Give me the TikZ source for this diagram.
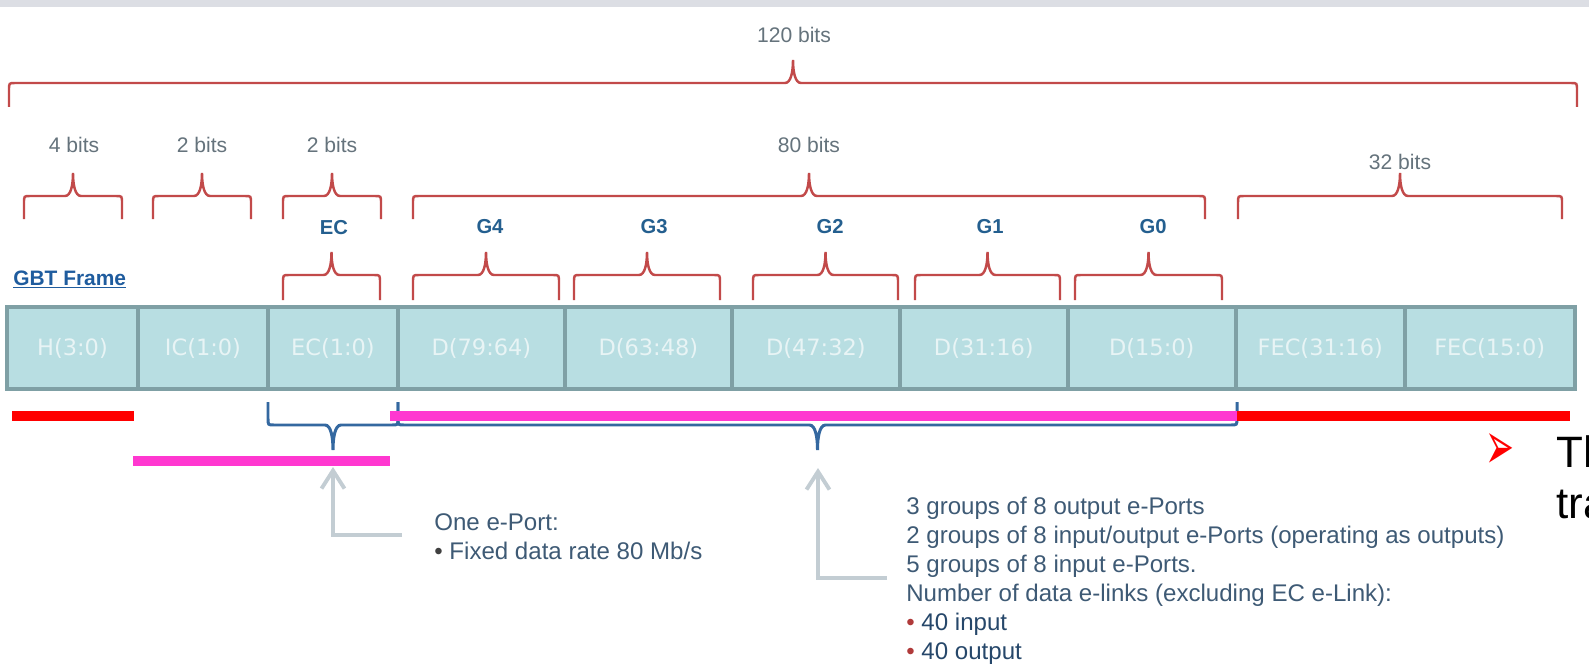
\documentclass[tikz,border=0pt]{standalone}
\usepackage{fontspec}
\usepackage{graphicx}
\setmainfont{Liberation Sans}
\newfontfamily\cellfont{DejaVu Sans}
\newfontfamily\symfont{DejaVu Sans}
\usetikzlibrary{arrows.meta,positioning}
\definecolor{cellfill}{HTML}{B8DEE2}
\definecolor{celledge}{HTML}{7FA0A5}
\definecolor{celltext}{HTML}{E8F4F5}
\definecolor{bracered}{HTML}{C24A4A}
\definecolor{braceblue}{HTML}{3468A0}
\definecolor{bitsgray}{HTML}{65737C}
\definecolor{groupblue}{HTML}{245F8F}
\definecolor{framelink}{HTML}{1F5C9E}
\definecolor{notetext}{HTML}{3E5A75}
\definecolor{notedark}{HTML}{26476A}
\definecolor{bulletred}{HTML}{B03A3A}
\definecolor{pointgray}{HTML}{C3CDD3}
\definecolor{barred}{HTML}{FF0000}
\definecolor{barpink}{HTML}{FF38D0}
\definecolor{topband}{HTML}{DCDEE4}

% brace: style, x left, x right, y line, y leg end, y tip
\newcommand{\spanbrace}[6]{%
  \draw[#1] (#2,#5) -- (#2,{#4+0.3*(#5-#4)}) .. controls (#2,#4) .. ({#2+6},#4)
    -- ({(#2+#3)/2-8},#4) .. controls ({(#2+#3)/2-2},#4) and ({(#2+#3)/2},{(#4+#6)/2}) .. ({(#2+#3)/2},#6)
    .. controls ({(#2+#3)/2},{(#4+#6)/2}) and ({(#2+#3)/2+2},#4) .. ({(#2+#3)/2+8},#4)
    -- ({#3-6},#4) .. controls (#3,#4) .. (#3,{#4+0.3*(#5-#4)}) -- (#3,#5);}

\begin{document}
\begin{tikzpicture}[x=0.02cm, y={-0.02cm},
  cell/.style={draw=celledge, line width=2.2pt, fill=cellfill, minimum height=1.64cm, outer sep=0pt, inner sep=0pt, font=\cellfont\fontsize{12.8}{14}\selectfont, text=celltext},
  bits/.style={font=\fontsize{12}{14}\selectfont, text=bitsgray, anchor=base, inner sep=0pt},
  group/.style={font=\bfseries\fontsize{11.5}{14}\selectfont, text=groupblue, anchor=base, inner sep=0pt},
  redbrace/.style={draw=bracered, line width=1.4pt},
  bluebrace/.style={draw=braceblue, line width=1.7pt},
  note/.style={align=left, anchor=base west, inner sep=0pt, text=notetext, font=\fontsize{13.7}{16.5}\selectfont},
  pointer/.style={draw=pointgray, line width=2.2pt, -{Straight Barb[length=3.6mm, width=4.6mm]}},
  slide/.style={font=\fontsize{25}{30}\selectfont, anchor=base west, inner sep=0pt}
]
  \useasboundingbox (0,0) rectangle (1589,669);
  \clip (0,0) rectangle (1589,669);
  \fill[white] (0,0) rectangle (1589,669);
  \fill[topband] (0,0) rectangle (1589,7);

  % bit counts
  \node[bits] (allbits) at (794,43) {120 bits};
  \node[bits] (hbits) at (74,153) {4 bits};
  \node[bits] (icbits) at (202,153) {2 bits};
  \node[bits] (ecbits) at (332,153) {2 bits};
  \node[bits] (dbits) at (809,153) {80 bits};
  \node[bits] (fecbits) at (1400,170) {32 bits};

  \spanbrace{redbrace}{9}{1577}{83}{107}{60}
  \spanbrace{redbrace}{24}{122}{196}{219}{173}
  \spanbrace{redbrace}{153}{251}{196}{219}{173}
  \spanbrace{redbrace}{283}{381}{196}{219}{173}
  \spanbrace{redbrace}{413}{1205}{196}{219}{173}
  \spanbrace{redbrace}{1238}{1562}{196}{219}{173}

  % groups
  \node[group] (ecgrp) at (334,234) {EC};
  \node[group] (g4) at (490,233) {G4};
  \node[group] (g3) at (654,233) {G3};
  \node[group] (g2) at (830,233) {G2};
  \node[group] (g1) at (990,233) {G1};
  \node[group] (g0) at (1153,233) {G0};

  \spanbrace{redbrace}{283}{380}{275}{300}{252}
  \spanbrace{redbrace}{413}{559}{275}{300}{252}
  \spanbrace{redbrace}{574}{720}{275}{300}{252}
  \spanbrace{redbrace}{753}{898}{275}{300}{252}
  \spanbrace{redbrace}{915}{1060}{275}{300}{252}
  \spanbrace{redbrace}{1075}{1222}{275}{300}{252}

  \node[anchor=base west, inner sep=0pt, text=framelink, font=\bfseries\fontsize{11.9}{14}\selectfont] (frame) at (13,285) {\underline{GBT Frame}};

  % frame cells
  \node[cell, minimum width=2.62cm, anchor=north west] (hdr) at (7,307) {H(3:0)};
  \node[cell, minimum width=2.6cm, right=0pt of hdr] (ic) {IC(1:0)};
  \node[cell, minimum width=2.6cm, right=0pt of ic] (ec) {EC(1:0)};
  \node[cell, minimum width=3.34cm, right=0pt of ec] (d79) {D(79:64)};
  \node[cell, minimum width=3.34cm, right=0pt of d79] (d63) {D(63:48)};
  \node[cell, minimum width=3.36cm, right=0pt of d63] (d47) {D(47:32)};
  \node[cell, minimum width=3.36cm, right=0pt of d47] (d31) {D(31:16)};
  \node[cell, minimum width=3.36cm, right=0pt of d31] (d15) {D(15:0)};
  \node[cell, minimum width=3.38cm, right=0pt of d15] (fec31) {FEC(31:16)};
  \node[cell, minimum width=3.4cm, right=0pt of fec31] (fec15) {FEC(15:0)};

  \spanbrace{bluebrace}{268}{398}{425}{402}{450}
  \spanbrace{bluebrace}{398}{1237}{425}{402}{450}

  % colour bars
  \fill[barred] (12,411) rectangle (134,421);
  \fill[barred] (1237,411) rectangle (1570,421);
  \fill[barpink] (390,411) rectangle (1237,421);
  \fill[barpink] (133,456) rectangle (390,466);

  % notes (base = last line)
  \node[note] (ecnote) at (434,559) {One e-Port:\\\textcolor{black!75}{•} Fixed data rate 80 Mb/s};
  \node[note] (datanote) at (906,659) {3 groups of 8 output e-Ports\\
    2 groups of 8 input/output e-Ports (operating as outputs)\\
    5 groups of 8 input e-Ports.\\
    Number of data e-links (excluding EC e-Link):\\
    \textcolor{bulletred}{•} \textcolor{notedark}{40 input}\\
    \textcolor{bulletred}{•} \textcolor{notedark}{40 output}};

  \coordinate (ectip) at (333,467);
  \coordinate (ecfoot) at (402,535);
  \draw[pointer] (ecfoot) -| (ectip);
  \coordinate (datatip) at (818,468);
  \coordinate (datafoot) at (887,578);
  \draw[pointer] (datafoot) -| (datatip);

  % cut-off slide text
  \node[text=red, inner sep=0pt, font=\symfont] (mark) at (1500,452) {\resizebox{0.58cm}{0.72cm}{➢}};
  \node[slide] (slidea) at (1556,467) {Th};
  \node[slide] (slideb) at (1556,518) {tra};
\end{tikzpicture}
\end{document}
